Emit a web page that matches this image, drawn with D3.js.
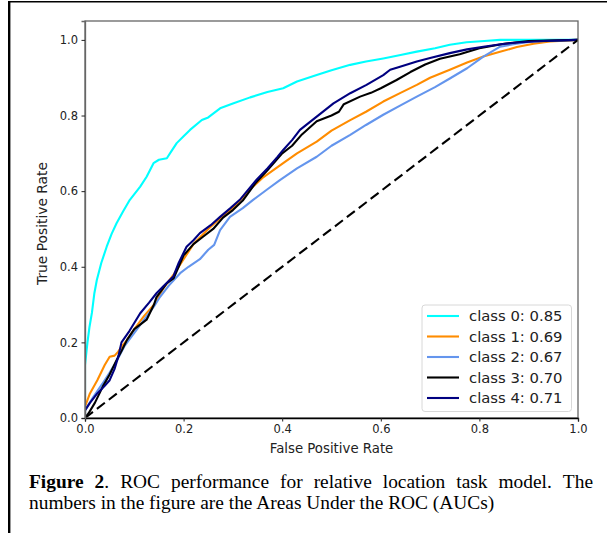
<!DOCTYPE html>
<html><head><meta charset="utf-8">
<script src="https://cdn.jsdelivr.net/npm/d3@7"></script>
<style>html,body{margin:0;padding:0;background:#fff;}svg{display:block;}</style>
</head><body>
<svg id="chart" width="607" height="533"></svg>
<script>
const classNames = ["class 0", "class 1", "class 2", "class 3", "class 4"];
const aucValues = ["0.85", "0.69", "0.67", "0.70", "0.71"];
const classColors = ["#00ffff", "#ff8c00", "#6495ed", "#000000", "#000080"];
const tickValues = [0, 0.2, 0.4, 0.6, 0.8, 1.0];

const class0 = [[0,0],[0,0.14],[0.005,0.2],[0.009,0.24],[0.014,0.278],[0.019,0.33],[0.024,0.365],[0.033,0.41],[0.044,0.453],[0.054,0.487],[0.064,0.515],[0.078,0.548],[0.091,0.577],[0.112,0.612],[0.125,0.638],[0.139,0.674],[0.15,0.683],[0.166,0.687],[0.175,0.705],[0.186,0.727],[0.2,0.745],[0.213,0.762],[0.237,0.788],[0.25,0.795],[0.274,0.819],[0.3,0.832],[0.335,0.848],[0.37,0.862],[0.402,0.872],[0.43,0.89],[0.47,0.907],[0.5,0.92],[0.538,0.934],[0.57,0.943],[0.605,0.951],[0.64,0.96],[0.673,0.969],[0.71,0.978],[0.74,0.987],[0.774,0.994],[0.81,0.997],[0.842,1.0],[1,1]];
const class1 = [[0,0],[0,0.03],[0.01,0.065],[0.025,0.1],[0.04,0.14],[0.05,0.162],[0.06,0.165],[0.067,0.175],[0.075,0.19],[0.085,0.206],[0.1,0.235],[0.12,0.27],[0.14,0.3],[0.16,0.345],[0.18,0.38],[0.2,0.42],[0.22,0.46],[0.25,0.5],[0.28,0.535],[0.3,0.555],[0.335,0.605],[0.36,0.635],[0.402,0.674],[0.43,0.70],[0.47,0.731],[0.5,0.76],[0.538,0.788],[0.57,0.81],[0.605,0.837],[0.64,0.86],[0.673,0.881],[0.70,0.9],[0.74,0.921],[0.775,0.94],[0.808,0.956],[0.84,0.968],[0.876,0.981],[0.91,0.99],[0.943,0.996],[1,1]];
const class2 = [[0,0],[0,0.02],[0.017,0.056],[0.035,0.09],[0.05,0.12],[0.064,0.15],[0.08,0.19],[0.1,0.225],[0.12,0.26],[0.14,0.295],[0.152,0.32],[0.17,0.35],[0.193,0.383],[0.21,0.40],[0.233,0.42],[0.25,0.445],[0.262,0.458],[0.274,0.497],[0.294,0.532],[0.32,0.555],[0.341,0.577],[0.37,0.605],[0.396,0.63],[0.43,0.66],[0.47,0.691],[0.5,0.72],[0.538,0.749],[0.57,0.775],[0.605,0.802],[0.64,0.827],[0.673,0.85],[0.71,0.875],[0.74,0.898],[0.775,0.925],[0.808,0.956],[0.842,0.982],[0.875,0.99],[0.909,0.996],[1,1]];
const class3 = [[0,0],[0.007,0.012],[0.02,0.04],[0.036,0.083],[0.05,0.115],[0.064,0.153],[0.075,0.18],[0.085,0.206],[0.1,0.235],[0.125,0.26],[0.14,0.3],[0.145,0.32],[0.165,0.355],[0.18,0.37],[0.2,0.43],[0.22,0.46],[0.24,0.48],[0.26,0.5],[0.28,0.53],[0.3,0.55],[0.32,0.575],[0.345,0.62],[0.37,0.655],[0.4,0.7],[0.42,0.72],[0.44,0.75],[0.47,0.785],[0.5,0.80],[0.515,0.81],[0.525,0.83],[0.558,0.85],[0.58,0.86],[0.6,0.872],[0.632,0.894],[0.66,0.915],[0.69,0.935],[0.72,0.95],[0.76,0.962],[0.8,0.978],[0.85,0.99],[0.9,0.997],[1,1]];
const class4 = [[0,0],[0,0.02],[0.01,0.04],[0.025,0.065],[0.04,0.085],[0.05,0.10],[0.06,0.13],[0.068,0.165],[0.074,0.2],[0.09,0.23],[0.112,0.277],[0.13,0.305],[0.145,0.33],[0.16,0.35],[0.179,0.374],[0.19,0.41],[0.206,0.453],[0.22,0.47],[0.233,0.489],[0.255,0.51],[0.274,0.532],[0.295,0.555],[0.314,0.577],[0.335,0.61],[0.348,0.63],[0.37,0.66],[0.39,0.69],[0.402,0.709],[0.42,0.735],[0.436,0.762],[0.47,0.797],[0.504,0.832],[0.538,0.859],[0.571,0.881],[0.605,0.907],[0.619,0.921],[0.639,0.929],[0.673,0.943],[0.70,0.952],[0.74,0.965],[0.775,0.975],[0.808,0.982],[0.84,0.988],[0.876,0.993],[0.93,0.997],[1,1]];
const chanceLine = [[0,0],[1,1]];

const captionLine1 = [[["Figure", true]], [["2", true], [".", false]], [["ROC", false]], [["performance", false]], [["for", false]], [["relative", false]], [["location", false]], [["task", false]], [["model.", false]], [["The", false]]];
const captionLine2 = "numbers in the figure are the Areas Under the ROC (AUCs)";

const series = [class0, class1, class2, class3, class4];

const svg = d3.select("#chart");
const pLeft = 85, pRight = 578, pTop = 21, pBottom = 418;
const x = d3.scaleLinear().domain([0, 1]).range([pLeft, pRight]);
const y = d3.scaleLinear().domain([0, 1.05]).range([pBottom, pTop]);

// outer figure frame
svg.append("line").attr("x1", 9.2).attr("x2", 9.2).attr("y1", 1).attr("y2", 533).attr("stroke", "#000").attr("stroke-width", 2.4);
svg.append("line").attr("x1", 8).attr("x2", 607).attr("y1", 1.8).attr("y2", 1.8).attr("stroke", "#000").attr("stroke-width", 1.6);

svg.append("defs").append("clipPath").attr("id", "clip")
  .append("rect").attr("x", pLeft).attr("y", pTop).attr("width", pRight - pLeft).attr("height", pBottom - pTop);

const line = d3.line().x(d => x(d[0])).y(d => y(d[1]));
const plot = svg.append("g").attr("clip-path", "url(#clip)");
series.forEach((s, i) => {
  plot.append("path").datum(s).attr("d", line).attr("fill", "none")
    .attr("stroke", classColors[i]).attr("stroke-width", 2.1).attr("stroke-linejoin", "round");
});
plot.append("path").datum(chanceLine).attr("d", line).attr("fill", "none")
  .attr("stroke", "#000").attr("stroke-width", 2.1).attr("stroke-dasharray", "10,5");

// frame
svg.append("rect").attr("x", pLeft).attr("y", pTop).attr("width", pRight - pLeft).attr("height", pBottom - pTop)
  .attr("fill", "none").attr("stroke", "#666").attr("stroke-width", 1.3);

const fmt = d3.format(".1f");
const xAxis = svg.append("g").attr("transform", `translate(0,${pBottom})`)
  .call(d3.axisBottom(x).tickValues(tickValues).tickFormat(fmt).tickSize(3.5).tickPadding(3));
const yAxis = svg.append("g").attr("transform", `translate(${pLeft},0)`)
  .call(d3.axisLeft(y).tickValues(tickValues).tickFormat(fmt).tickSize(3.5).tickPadding(3.5));
[xAxis, yAxis].forEach(a => {
  a.select(".domain").attr("stroke", "#000").attr("stroke-width", 1.3);
  a.selectAll(".tick line").attr("stroke", "#222").attr("stroke-width", 1);
  a.selectAll(".tick text").attr("font-family", "DejaVu Sans").attr("font-size", 11.5).attr("fill", "#222");
});
yAxis.select(".domain").attr("stroke", "#666");

svg.append("text").attr("x", (pLeft + pRight) / 2).attr("y", 453).attr("text-anchor", "middle")
  .attr("font-family", "DejaVu Sans").attr("font-size", 13.3).attr("fill", "#222").text("False Positive Rate");
svg.append("text").attr("transform", `translate(46.5,${(pTop + pBottom) / 2 + 4}) rotate(-90)`).attr("text-anchor", "middle")
  .attr("font-family", "DejaVu Sans").attr("font-size", 13.8).attr("fill", "#222").text("True Positive Rate");

// legend
const lg = svg.append("g");
lg.append("rect").attr("x", 422).attr("y", 305).attr("width", 149.5).attr("height", 106.5).attr("rx", 3)
  .attr("fill", "#fff").attr("fill-opacity", 0.85).attr("stroke", "#d8d8d8").attr("stroke-width", 1);
const ly = d3.scaleLinear().domain([0, 4]).range([316, 398]);
classNames.forEach((n, i) => {
  lg.append("line").attr("x1", 427).attr("x2", 459).attr("y1", ly(i)).attr("y2", ly(i))
    .attr("stroke", classColors[i]).attr("stroke-width", 2.1);
  lg.append("text").attr("x", 469).attr("y", ly(i)).attr("dy", "0.36em")
    .attr("font-family", "DejaVu Sans").attr("font-size", 14.8).attr("fill", "#222")
    .text(`${n}: ${aucValues[i]}`);
});

// caption (justified first line)
const capFont = "Liberation Serif";
const capSize = 19.4;
const capLeft = 29, capRight = 593;
const words = captionLine1.map(segs => {
  const t = svg.append("text").attr("y", 487.5).attr("font-family", capFont).attr("font-size", capSize).attr("fill", "#000");
  segs.forEach(([s, b]) => t.append("tspan").attr("font-weight", b ? "bold" : "normal").text(s));
  return t;
});
const widths = words.map(t => t.node().getComputedTextLength());
const gap = (capRight - capLeft - d3.sum(widths)) / (words.length - 1);
let cx = capLeft;
words.forEach((t, i) => { t.attr("x", cx); cx += widths[i] + gap; });
svg.append("text").attr("x", capLeft).attr("y", 509).attr("font-family", capFont).attr("font-size", capSize)
  .attr("fill", "#000").text(captionLine2);
</script>
</body></html>
